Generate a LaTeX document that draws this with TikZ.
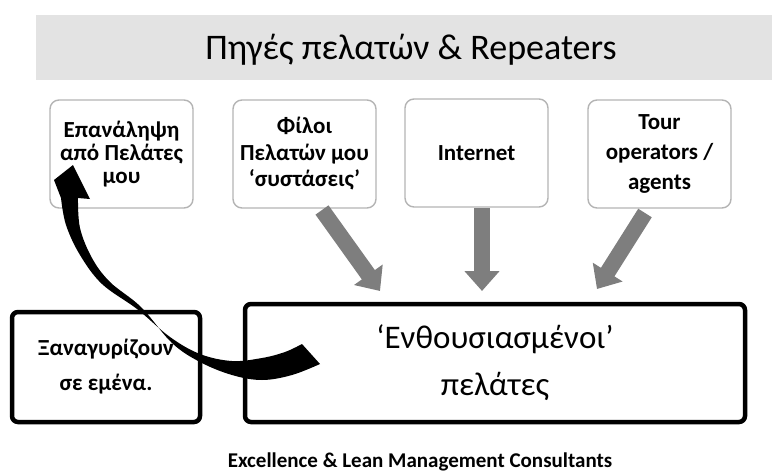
\documentclass[tikz,border=0pt]{standalone}
\usepackage{fontspec}
\setmainfont{Carlito}
\usetikzlibrary{arrows.meta}
\definecolor{bannergray}{HTML}{E3E3E3}
\definecolor{boxline}{HTML}{B4B4B4}
\definecolor{arrgray}{HTML}{7E7E7E}
\tikzset{
  srcbox/.style={draw=boxline, line width=1.4pt, rounded corners=9pt, fill=white,
    minimum width=143pt, minimum height=108pt, align=center, inner sep=1pt,
    font=\fontsize{23}{23}\selectfont\bfseries},
  thickbox/.style={draw=black, line width=4.5pt, rounded corners=6pt, fill=white, align=center, inner sep=1pt},
  grayarrow/.style={draw=arrgray, line width=16pt, -{Triangle[width=34pt,length=20pt]}},
}
\begin{document}
\begin{tikzpicture}[x=1pt,y=-1pt]
\useasboundingbox (0,0) rectangle (772,472);
% banner
\fill[bannergray] (36,15) rectangle (772,80);
\node[font=\fontsize{36}{40}\selectfont] (title) at (411,50) {Πηγές πελατών \& Repeaters};
% source boxes
\node[srcbox] (b1) at (121.5,154) {Επανάληψη\\από Πελάτες\\μου};
\node[srcbox, font=\fontsize{23}{26.5}\selectfont\bfseries] (b2) at (304.5,154) {Φίλοι\\Πελατών μου\\‘συστάσεις’};
\node[srcbox] (b3) at (476.5,153) {Internet};
\node[srcbox, font=\fontsize{23}{30}\selectfont\bfseries] (b4) at (659.5,154) {Tour\\operators /\\agents};
% target boxes
\node[thickbox, minimum width=500pt, minimum height=118pt,
  font=\fontsize{33}{47}\selectfont] (ent) at (495,363) {‘Ενθουσιασμένοι’\\πελάτες};
\node[thickbox, minimum width=188pt, minimum height=110pt,
  font=\fontsize{23}{35}\selectfont\bfseries] (back) at (106,367) {Ξαναγυρίζουν\\σε εμένα.};
% gray arrows
\coordinate (a2s) at (322,210);
\coordinate (a2e) at (380,291);
\coordinate (a3s) at (482,208);
\coordinate (a3e) at (482,291);
\coordinate (a4s) at (645,213);
\coordinate (a4e) at (597,289);
\draw[grayarrow] (a2s) -- (a2e);
\draw[grayarrow] (a3s) -- (a3e);
\draw[grayarrow] (a4s) -- (a4e);
% curved black arrow
\fill[black] plot[smooth, tension=0.6] coordinates {(302,344) (285,352) (262,358) (232,361) (200,354) (170,337) (137,309) (102,284) (80,255) (66,225) (61,198)}
  -- (54,180) -- (73,165) -- (90,199)
  -- plot[smooth, tension=0.6] coordinates {(78,198) (80,228) (92,258) (110,282) (141,307) (172,343) (200,362) (232,375) (262,380) (292,375) (320,364)}
  -- cycle;
% footer
\node[font=\fontsize{21}{24}\selectfont\bfseries] (foot) at (420,462) {Excellence \& Lean Management Consultants};
\end{tikzpicture}
\end{document}
